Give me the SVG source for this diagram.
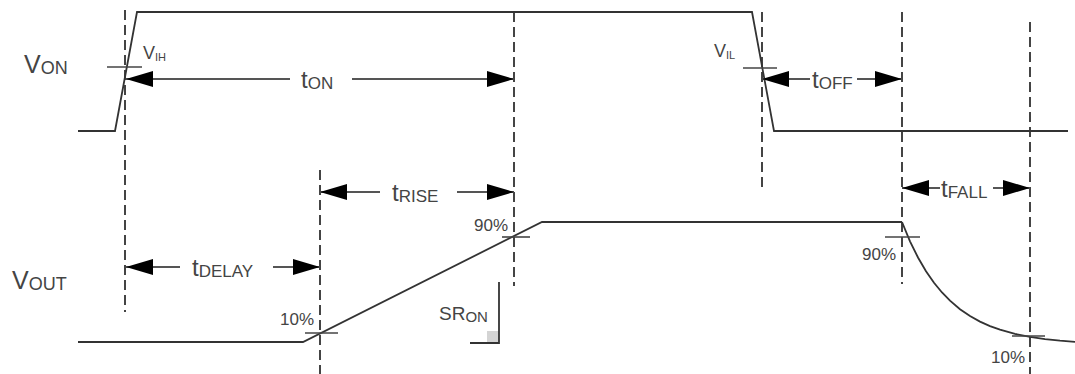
<svg xmlns="http://www.w3.org/2000/svg" width="1075" height="374" viewBox="0 0 1075 374">
<defs>
<style>
.sig{fill:none;stroke:#333;stroke-width:1.8;stroke-linejoin:miter}
.dash{fill:none;stroke:#444;stroke-width:2;stroke-dasharray:10,5}
.tick{fill:none;stroke:#444;stroke-width:1.6}
.dim{fill:none;stroke:#555;stroke-width:2;marker-end:url(#ah)}
.lbl{font-family:"Liberation Sans",Arial,sans-serif;fill:#444}
.big{font-size:24px}
.sub{font-size:17px}
.pct{font-family:"Liberation Sans",Arial,sans-serif;fill:#444;font-size:17px}
</style>
<marker id="ah" viewBox="0 0 27 16" refX="27" refY="8" markerWidth="27" markerHeight="16" markerUnits="userSpaceOnUse" orient="auto">
<path d="M0,0 L27,8 L0,16 z" fill="#000"/>
</marker>
</defs>
<rect width="1075" height="374" fill="#fff"/>

<g id="guides">
<line class="dash" x1="125" y1="10" x2="125" y2="312"/>
<line class="dash" x1="320" y1="170" x2="320" y2="374"/>
<line class="dash" x1="514" y1="12" x2="514" y2="286"/>
<line class="dash" x1="762" y1="12" x2="762" y2="192"/>
<line class="dash" x1="902" y1="12" x2="902" y2="284"/>
<line class="dash" x1="1030" y1="22" x2="1030" y2="374"/>
</g>

<g id="von-signal">
<polyline class="sig" points="78,131 115,131 137,12 752,12 774,131 1068,131"/>
</g>

<g id="vout-signal">
<polyline class="sig" points="78,342 303,342 542,222 902,222"/>
<polyline class="sig" points="902,222 910,241.3 918,257.5 926,271.2 934,282.7 942,292.5 950,300.7 960,309.2 970,316.1 980,321.6 990,326.1 1000,329.7 1015,333.9 1030,336.9 1045,339.1 1060,340.7 1075,341.9"/>
</g>

<g id="ticks">
<line class="tick" x1="107" y1="67" x2="142" y2="67"/>
<line class="tick" x1="743" y1="68" x2="777" y2="68"/>
<line class="tick" x1="305" y1="333" x2="338" y2="333"/>
<line class="tick" x1="502" y1="237" x2="530" y2="237"/>
<line class="tick" x1="885" y1="237" x2="920" y2="237"/>
<line class="tick" x1="1012" y1="336" x2="1045" y2="336"/>
</g>

<g id="connectors">
<line class="dim" x1="290" y1="79" x2="126" y2="79"/>
<line class="dim" x1="352" y1="79" x2="514" y2="79"/>
<line class="dim" x1="810" y1="79" x2="762" y2="79"/>
<line class="dim" x1="857" y1="79" x2="902" y2="79"/>
<line class="dim" x1="380" y1="192" x2="320" y2="192"/>
<line class="dim" x1="457" y1="192" x2="514" y2="192"/>
<line class="dim" x1="180" y1="267" x2="126" y2="267"/>
<line class="dim" x1="273" y1="267" x2="320" y2="267"/>
<line class="dim" x1="940" y1="188" x2="902" y2="188"/>
<line class="dim" x1="993" y1="188" x2="1030" y2="188"/>
</g>

<g id="sr-on">
<rect x="487" y="331" width="12" height="12" fill="#d4d4d4"/>
<polyline class="sig" points="499,282 499,343 470,343"/>
<text class="lbl" x="439" y="320"><tspan font-size="19">SR</tspan><tspan font-size="15" dy="2">ON</tspan></text>
</g>

<g id="labels">
<text class="lbl" x="24" y="73"><tspan font-size="25">V</tspan><tspan font-size="18" dy="1">ON</tspan></text>
<text class="lbl" x="12" y="289"><tspan font-size="25">V</tspan><tspan font-size="18" dy="1">OUT</tspan></text>
<text class="lbl" x="143" y="59"><tspan font-size="18">V</tspan><tspan font-size="11" dy="2">IH</tspan></text>
<text class="lbl" x="714" y="57"><tspan font-size="18">V</tspan><tspan font-size="11" dy="2">IL</tspan></text>
<text class="lbl" x="301" y="88"><tspan class="big">t</tspan><tspan class="sub" dy="1">ON</tspan></text>
<text class="lbl" x="812" y="88"><tspan class="big">t</tspan><tspan class="sub" dy="1">OFF</tspan></text>
<text class="lbl" x="392" y="201"><tspan class="big">t</tspan><tspan class="sub" dy="1">RISE</tspan></text>
<text class="lbl" x="192" y="276"><tspan class="big">t</tspan><tspan class="sub" dy="1">DELAY</tspan></text>
<text class="lbl" x="941" y="197"><tspan class="big">t</tspan><tspan class="sub" dy="1">FALL</tspan></text>
<text class="pct" x="314" y="325" text-anchor="end">10%</text>
<text class="pct" x="508" y="231" text-anchor="end">90%</text>
<text class="pct" x="896" y="260" text-anchor="end">90%</text>
<text class="pct" x="1025" y="363" text-anchor="end">10%</text>
</g>
</svg>
